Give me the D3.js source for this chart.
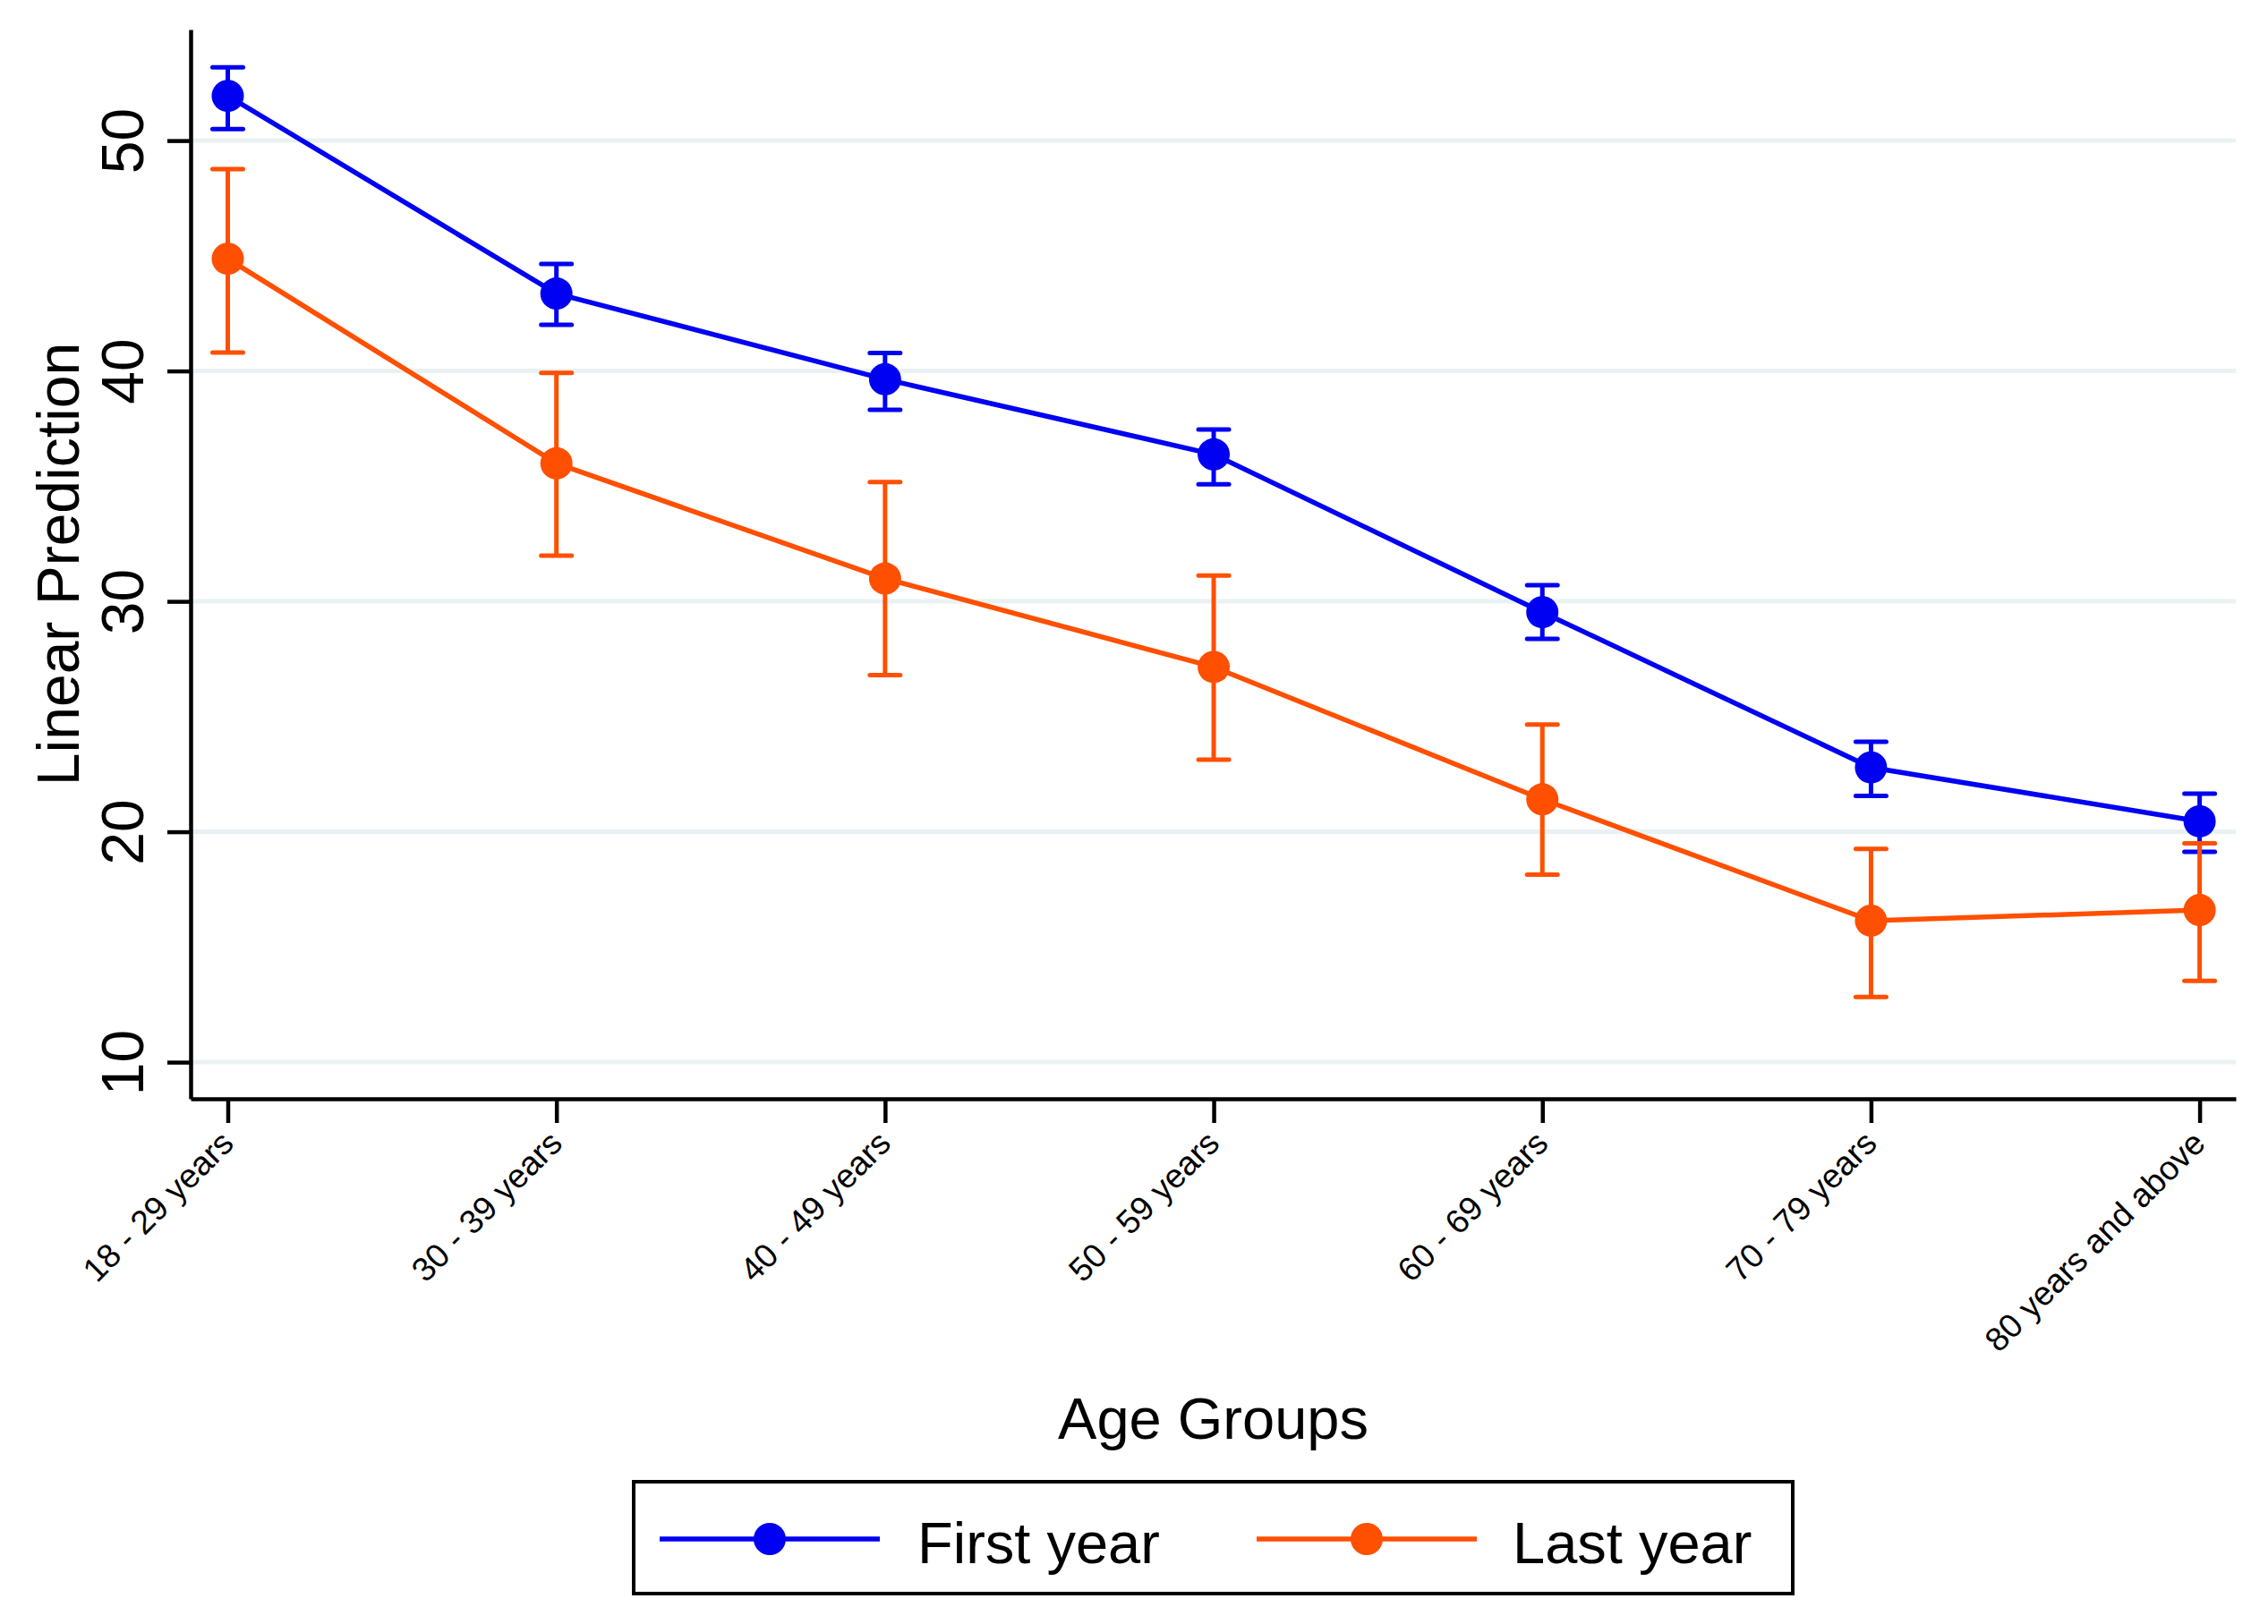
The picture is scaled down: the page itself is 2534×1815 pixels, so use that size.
<!DOCTYPE html>
<html>
<head>
<meta charset="utf-8">
<script src="https://cdn.jsdelivr.net/npm/d3@7"></script>
<style>
  html, body { margin: 0; padding: 0; background: #ffffff; }
  svg { display: block; font-family: "Liberation Sans", Arial, Helvetica, sans-serif; }
</style>
</head>
<body>
<svg id="chart" width="2534" height="1815"></svg>
<script>
// ---- data ----
const categories = ["18 - 29 years", "30 - 39 years", "40 - 49 years", "50 - 59 years",
                    "60 - 69 years", "70 - 79 years", "80 years and above"];
const firstYear   = [51.94, 43.36, 39.64, 36.38, 29.53, 22.79, 20.45];
const firstYearLo = [50.50, 42.00, 38.31, 35.08, 28.37, 21.56, 19.13];
const firstYearHi = [53.18, 44.64, 40.78, 37.46, 30.70, 23.91, 21.65];
const lastYear    = [44.87, 35.99, 30.99, 27.15, 21.41, 16.14, 16.60];
const lastYearLo  = [40.80, 31.98, 26.80, 23.13, 18.14, 12.83, 13.53];
const lastYearHi  = [48.76, 39.92, 35.18, 31.12, 24.65, 19.26, 19.50];
const yTicks = [10, 20, 30, 40, 50];
const seriesNames = ["First year", "Last year"];

const series = [
  { name: seriesNames[0], color: "#0000f2", v: firstYear, lo: firstYearLo, hi: firstYearHi },
  { name: seriesNames[1], color: "#ff4f00", v: lastYear,  lo: lastYearLo,  hi: lastYearHi }
];

const svg = d3.select("#chart");
const plotL = 213, plotR = 2498, plotT = 33, plotB = 1228;

const x = d3.scaleLinear().domain([-0.113, 6.11]).range([plotL, plotR]);
const y = d3.scaleLinear().domain([8.41, 54.82]).range([plotB, plotT]);

// grid lines
svg.append("g").selectAll("line").data(yTicks).join("line")
  .attr("x1", plotL).attr("x2", plotR)
  .attr("y1", d => y(d)).attr("y2", d => y(d))
  .attr("stroke", "#eaf1f3").attr("stroke-width", 5);

// y axis
const yAxis = svg.append("g").attr("transform", `translate(${plotL},0)`)
  .call(d3.axisLeft(y).tickValues(yTicks).tickSize(26).tickSizeOuter(0).tickFormat(d3.format("d")));
yAxis.select(".domain").attr("stroke", "#000").attr("stroke-width", 4.5);
yAxis.selectAll(".tick line").attr("stroke", "#000").attr("stroke-width", 4.5);
yAxis.selectAll(".tick text")
  .attr("x", null).attr("dy", null)
  .attr("transform", "translate(-53,0) rotate(-90)")
  .attr("text-anchor", "middle")
  .attr("font-size", 66).attr("fill", "#000")
  .style("font-family", "'Liberation Sans', Arial, Helvetica, sans-serif");

// x axis
const xAxis = svg.append("g").attr("transform", `translate(0,${plotB})`)
  .call(d3.axisBottom(x).tickValues(d3.range(categories.length)).tickSize(27).tickSizeOuter(0)
        .tickFormat(i => categories[i]));
xAxis.select(".domain").attr("stroke", "#000").attr("stroke-width", 4.5);
xAxis.selectAll(".tick line").attr("stroke", "#000").attr("stroke-width", 4.5);
xAxis.selectAll(".tick text")
  .attr("y", null).attr("dy", null)
  .attr("transform", "translate(8,52) rotate(-45)")
  .attr("text-anchor", "end")
  .attr("font-size", 37.5).attr("fill", "#000")
  .style("font-family", "'Liberation Sans', Arial, Helvetica, sans-serif");

// axis titles
svg.append("text")
  .attr("transform", `translate(88,${(plotT + plotB) / 2}) rotate(-90)`)
  .attr("text-anchor", "middle").attr("font-size", 66).attr("fill", "#000")
  .text("Linear Prediction");
svg.append("text")
  .attr("x", (plotL + plotR) / 2).attr("y", 1608)
  .attr("text-anchor", "middle").attr("font-size", 65).attr("fill", "#000")
  .text("Age Groups");

// series
const idx = d3.range(categories.length);
const capHalf = 17;
series.forEach(s => {
  const g = svg.append("g");
  // error bars
  g.selectAll("line.eb").data(idx).join("line").attr("class", "eb")
    .attr("x1", i => x(i)).attr("x2", i => x(i))
    .attr("y1", i => y(s.lo[i])).attr("y2", i => y(s.hi[i]))
    .attr("stroke", s.color).attr("stroke-width", 5);
  g.selectAll("line.caplo").data(idx).join("line").attr("class", "caplo")
    .attr("x1", i => x(i) - capHalf).attr("x2", i => x(i) + capHalf)
    .attr("y1", i => y(s.lo[i])).attr("y2", i => y(s.lo[i]))
    .attr("stroke", s.color).attr("stroke-width", 5).attr("stroke-linecap", "round");
  g.selectAll("line.caphi").data(idx).join("line").attr("class", "caphi")
    .attr("x1", i => x(i) - capHalf).attr("x2", i => x(i) + capHalf)
    .attr("y1", i => y(s.hi[i])).attr("y2", i => y(s.hi[i]))
    .attr("stroke", s.color).attr("stroke-width", 5).attr("stroke-linecap", "round");
  // connecting line
  g.append("path")
    .attr("d", d3.line().x(i => x(i)).y(i => y(s.v[i]))(idx))
    .attr("fill", "none").attr("stroke", s.color).attr("stroke-width", 5.5)
    .attr("stroke-linejoin", "round");
  // markers
  g.selectAll("circle").data(idx).join("circle")
    .attr("cx", i => x(i)).attr("cy", i => y(s.v[i])).attr("r", 18)
    .attr("fill", s.color);
});

// legend
const leg = svg.append("g");
leg.append("rect")
  .attr("x", 708).attr("y", 1656).attr("width", 1295).attr("height", 125)
  .attr("fill", "#fff").attr("stroke", "#000").attr("stroke-width", 4);
const legItems = [
  { s: series[0], x0: 737, x1: 983, tx: 1025 },
  { s: series[1], x0: 1404, x1: 1650, tx: 1690 }
];
legItems.forEach(it => {
  const cy = 1720;
  leg.append("line").attr("x1", it.x0).attr("x2", it.x1).attr("y1", cy).attr("y2", cy)
    .attr("stroke", it.s.color).attr("stroke-width", 5.5);
  leg.append("circle").attr("cx", (it.x0 + it.x1) / 2).attr("cy", cy).attr("r", 18)
    .attr("fill", it.s.color);
  leg.append("text").attr("x", it.tx).attr("y", 1747)
    .attr("font-size", 65).attr("fill", "#000").text(it.s.name);
});
</script>
</body>
</html>
